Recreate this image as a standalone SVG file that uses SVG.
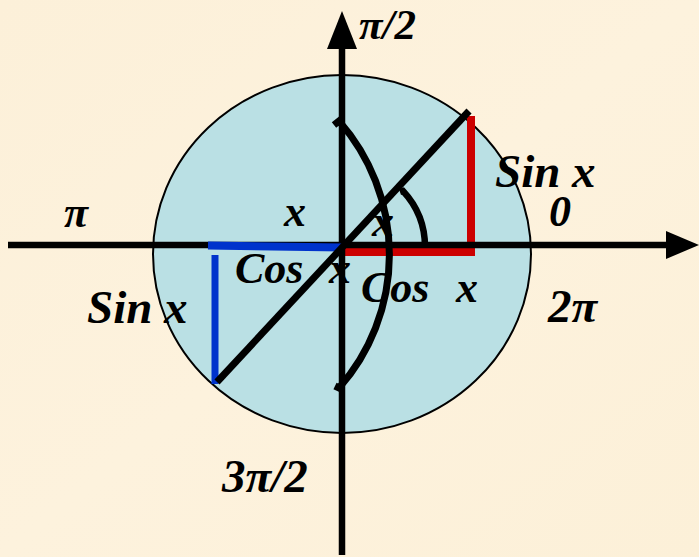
<svg xmlns="http://www.w3.org/2000/svg" width="699" height="557" viewBox="0 0 699 557">
<defs>
<style>
.lbl{font-family:"Liberation Serif","Times New Roman",serif;font-weight:bold;font-style:italic;font-size:44px;fill:#000}
.big{font-size:47px}
.ln{fill:none;stroke:#000;stroke-width:6.5}
.thick{fill:none;stroke:#000;stroke-width:7}
</style>
<linearGradient id="bg" x1="0" y1="0" x2="1" y2="1">
<stop offset="0" stop-color="#FCF0D9"/>
<stop offset="0.5" stop-color="#FDF2DD"/>
<stop offset="1" stop-color="#FCF0D8"/>
</linearGradient>
</defs>
<rect id="background" x="0" y="0" width="699" height="557" fill="url(#bg)"/>
<g id="circle">
<ellipse cx="342" cy="254" rx="189" ry="179" fill="#BAE0E4" stroke="#000" stroke-width="2"/>
</g>
<g id="labels">
<text class="lbl" x="359" y="39" style="font-size:43px">π/2</text>
<text class="lbl" x="64" y="227">π</text>
<text class="lbl" x="284" y="226">x</text>
<text class="lbl" x="372" y="236">x</text>
<text class="lbl" x="549" y="226">0</text>
<text class="lbl big" x="495" y="187">Sin x</text>
<text class="lbl" x="235" y="283">Cos <tspan x="329">x</tspan></text>
<text class="lbl" x="361" y="302">Cos <tspan x="456">x</tspan></text>
<text class="lbl big" x="87" y="323">Sin x</text>
<text class="lbl big" x="548" y="322">2π</text>
<text class="lbl big" x="222" y="492">3π/2</text>
</g>
<g id="sin-cos-segments">
<line x1="343" y1="249.5" x2="473" y2="249.5" stroke="#CC0000" stroke-width="13"/>
<line x1="471" y1="116" x2="471" y2="256" stroke="#CC0000" stroke-width="8"/>
</g>
<g id="connectors">
<line class="ln" x1="8" y1="245" x2="668" y2="245"/>
<polygon points="699,245 666,231 666,259" fill="#000"/>
<line class="ln" x1="342" y1="48" x2="342" y2="555"/>
<polygon points="342,11 327,49 357,49" fill="#000"/>
<line x1="208" y1="245.5" x2="343" y2="247.5" stroke="#0033CC" stroke-width="8"/>
<line x1="215" y1="255" x2="215" y2="384" stroke="#0033CC" stroke-width="7"/>
<line class="thick" x1="217" y1="382" x2="469" y2="111"/>
<path class="thick" d="M 334 125 L 339 121 A 202 202 0 0 1 339 388 L 335 386"/>
<path class="ln" d="M 400 192 L 403 191 A 82 82 0 0 1 425 247"/>
</g>
</svg>
